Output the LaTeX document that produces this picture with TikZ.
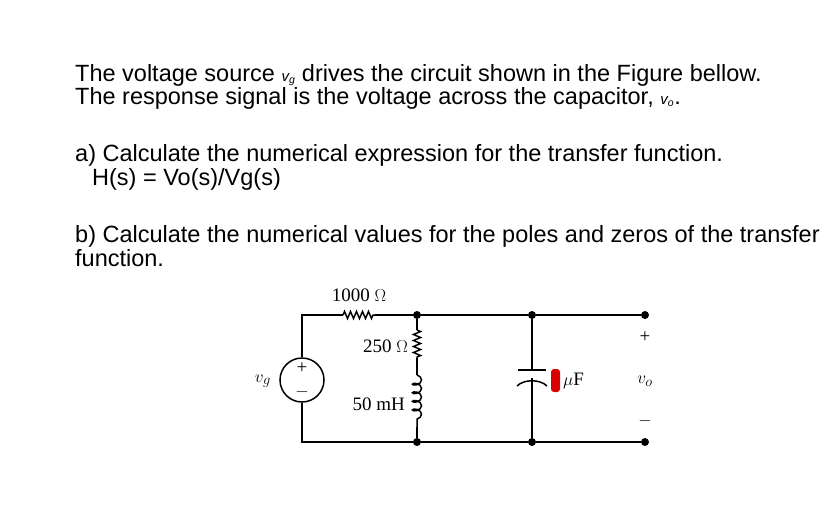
\documentclass[tikz,border=0pt]{standalone}
\usepackage{fontspec}
\setmainfont{Liberation Sans}
\newfontfamily\circfont{Liberation Serif}
\usetikzlibrary{decorations.pathmorphing}
\begin{document}
\begin{tikzpicture}[x=1pt, y=-1pt,
    txt/.style={anchor=north west, inner sep=0pt, align=left, font=\fontsize{23.5}{19}\selectfont},
    lbl/.style={inner sep=1pt, font=\circfont\fontsize{19}{19}\selectfont},
    w/.style={line width=1.5pt},
    dot/.style={circle, fill, inner sep=0pt, minimum size=8pt},
    res/.style={w, decoration={zigzag, segment length=6pt, amplitude=3.5pt}, decorate},
    ind/.style={w, decoration={coil, aspect=0.6, segment length=8.6pt, amplitude=4.5pt}, decorate}]
\useasboundingbox (0,0) rectangle (831,512);
% text
\node[txt] (l1) at (75,64) {The voltage source \textit{\fontsize{15}{15}\selectfont v\textsubscript{g}} drives the circuit shown in the Figure bellow.\\
The response signal is the voltage across the capacitor, \textit{\fontsize{15}{15}\selectfont v\textsubscript{o}}.};
\node[txt] (l3) at (75,144) {a) Calculate the numerical expression for the transfer function.};
\node[txt] (l4) at (92,168) {H(s) = Vo(s)/Vg(s)};
\node[txt, font=\fontsize{23.5}{24}\selectfont] (l5) at (75,225) {b) Calculate the numerical values for the poles and zeros of the transfer\\
function.};
% circuit nodes
\coordinate (tl) at (302,315);
\coordinate (bl) at (302,442);
\node[dot] (n1) at (417,315) {};
\node[dot] (n2) at (417,442) {};
\node[dot] (c1) at (532,315) {};
\node[dot] (c2) at (532,442) {};
\node[dot] (o1) at (645,315) {};
\node[dot] (o2) at (645,442) {};
\node[circle, draw, w, minimum size=44pt] (vg) at (302,380) {};
\node[lbl] at (302,368) {+};
\node[lbl] at (302,392) {$-$};
\node[lbl, anchor=east] (lvg) at (272,381) {$v_g$};
\coordinate (r1a) at (343,315);
\coordinate (r1b) at (375,315);
\node[lbl] (l1k) at (359,295) {1000 $\Omega$};
\coordinate (r2a) at (417,330);
\coordinate (r2b) at (417,358);
\node[lbl, anchor=east] (l250) at (409,346) {250 $\Omega$};
\coordinate (la) at (417,375);
\coordinate (lb) at (417,427);
\node[lbl, anchor=east] (l50) at (406,404) {50 mH};
\coordinate (cpa) at (532,370);
\coordinate (cpb) at (532,378);
\node[lbl, anchor=west] (lmu) at (562,381) {$\mu$F};
\node[lbl] (lp) at (645,337) {+};
\node[lbl] (lvo) at (645,381) {$v_o$};
\node[lbl] (lm) at (645,421) {$-$};
% wires
\draw[w] (vg.north) -- (tl) -- (r1a);
\draw[res] (r1a) -- (r1b);
\draw[w] (r1b) -- (n1) -- (c1) -- (o1);
\draw[w] (vg.south) -- (bl) -- (n2) -- (c2) -- (o2);
\draw[w] (n1) -- (r2a);
\draw[res] (r2a) -- (r2b);
\draw[w] (r2b) -- (la);
\draw[ind] (la) -- (lb);
\draw[w] (lb) -- (n2);
\draw[w] (c1) -- (cpa);
\draw[w] (518,370) -- (546,370);
\draw[w] (517,386) .. controls (524,379) and (540,379) .. (547,386);
\draw[w] (cpb) -- (c2);
\fill[red!85!black, rounded corners=3pt] (551,369) rectangle (560,392);
\end{tikzpicture}
\end{document}
